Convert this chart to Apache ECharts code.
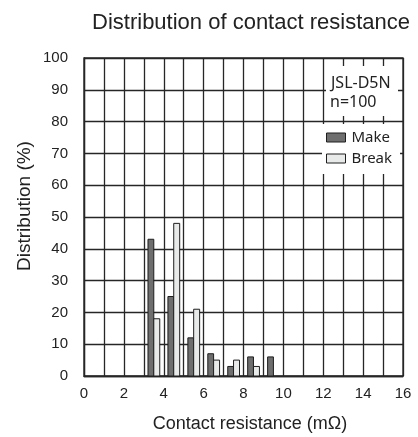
<!DOCTYPE html>
<html>
<head>
<meta charset="utf-8">
<script src="https://cdn.jsdelivr.net/npm/echarts@6/dist/echarts.min.js"></script>
<style>html,body{margin:0;padding:0;background:#fff}#c{width:418px;height:437px}</style>
</head>
<body>
<div id="c"></div>
<script>
// Bin start of each 1 mΩ class (mΩ)
const categories = [3, 4, 5, 6, 7, 8, 9];
const makeValues = [43, 25, 12, 7, 3, 6, 6];
const breakValues = [18, 48, 21, 5, 5, 3, 0];
const xTickLabels = [0, 2, 4, 6, 8, 10, 12, 14, 16];
const yTickLabels = [0, 10, 20, 30, 40, 50, 60, 70, 80, 90, 100];

const LINE = '#262626';
const MAKE_COLOR = '#6e6e6e';
const BREAK_COLOR = '#e8e9e9';
const FONT = '"Liberation Sans", Arial, sans-serif';
const FONT2 = '"Noto Sans", "Open Sans", sans-serif';

function barRenderer(off0, off1, color) {
  return function (params, api) {
    const x0 = api.value(0), v = api.value(1);
    if (!v) return null;
    const p1 = api.coord([x0 + off0, v]);
    const p2 = api.coord([x0 + off1, 0]);
    return {
      type: 'rect',
      shape: { x: p1[0], y: p1[1], width: p2[0] - p1[0], height: p2[1] - p1[1] },
      style: { fill: color, stroke: '#1e1e1e', lineWidth: 1 }
    };
  };
}

const chart = echarts.init(document.getElementById('c'), null, { renderer: 'canvas' });
chart.setOption({
  animation: false,
  backgroundColor: '#fff',
  grid: { left: 84, right: 15, top: 58, bottom: 61, show: true, borderColor: LINE, borderWidth: 1.3, backgroundColor: 'transparent' },
  xAxis: {
    type: 'value', min: 0, max: 16, interval: 1,
    axisLine: { show: true, lineStyle: { color: LINE, width: 1.3 } },
    axisTick: { show: false },
    splitLine: { show: true, lineStyle: { color: LINE, width: 1.3 } },
    axisLabel: {
      margin: 10, color: '#222', fontSize: 15, fontFamily: FONT,
      formatter: v => (xTickLabels.indexOf(v) >= 0 ? String(v) : '')
    }
  },
  yAxis: {
    type: 'value', min: 0, max: 100, interval: 10,
    axisLine: { show: true, lineStyle: { color: LINE, width: 1.3 } },
    axisTick: { show: false },
    splitLine: { show: true, lineStyle: { color: LINE, width: 1.3 } },
    axisLabel: {
      margin: 16, color: '#222', fontSize: 15, fontFamily: FONT,
      formatter: v => (yTickLabels.indexOf(v) >= 0 ? String(v) : '')
    }
  },
  legend: {
    orient: 'vertical', left: 322, top: 124,
    padding: [6, 8, 8, 4],
    backgroundColor: '#fff',
    itemWidth: 19, itemHeight: 9, itemGap: 6,
    textStyle: { fontSize: 15, lineHeight: 15, fontFamily: FONT2, color: '#222', padding: [0, 0, 0, 1] },
    data: [
      { name: 'Make', icon: 'rect', itemStyle: { color: MAKE_COLOR, borderColor: '#1e1e1e', borderWidth: 1 } },
      { name: 'Break', icon: 'rect', itemStyle: { color: BREAK_COLOR, borderColor: '#1e1e1e', borderWidth: 1 } }
    ],
    z: 20
  },
  graphic: [
    { type: 'rect', z: 15, shape: { x: 326, y: 66, width: 72, height: 50 }, style: { fill: '#fff' } },
    { type: 'text', z: 16, x: 331, y: 83, style: { text: 'JSL-D5N', font: '16px ' + FONT2, fill: '#222', textVerticalAlign: 'middle' } },
    { type: 'text', z: 16, x: 330, y: 102.5, style: { text: 'n=100', font: '16px ' + FONT2, fill: '#222', textVerticalAlign: 'middle' } },
    { type: 'text', z: 16, x: 251, y: 22.5, style: { text: 'Distribution of contact resistance', font: '22px ' + FONT, fill: '#222', textAlign: 'center', textVerticalAlign: 'middle' } },
    { type: 'text', z: 16, x: 250, y: 424, style: { text: 'Contact resistance (mΩ)', font: '18px ' + FONT, fill: '#222', textAlign: 'center', textVerticalAlign: 'middle' } },
    { type: 'text', z: 16, x: 25, y: 206, rotation: Math.PI / 2, style: { text: 'Distribution (%)', font: '19px ' + FONT, fill: '#222', textAlign: 'center', textVerticalAlign: 'middle' } }
  ],
  series: [
    {
      name: 'Make', type: 'custom', z: 5,
      itemStyle: { color: MAKE_COLOR, borderColor: '#1e1e1e', borderWidth: 1 },
      renderItem: barRenderer(0.21, 0.5, MAKE_COLOR),
      encode: { x: 0, y: 1 },
      data: categories.map((c, i) => [c, makeValues[i]])
    },
    {
      name: 'Break', type: 'custom', z: 5,
      itemStyle: { color: BREAK_COLOR, borderColor: '#1e1e1e', borderWidth: 1 },
      renderItem: barRenderer(0.5, 0.8, BREAK_COLOR),
      encode: { x: 0, y: 1 },
      data: categories.map((c, i) => [c, breakValues[i]])
    }
  ]
});
</script>
</body>
</html>
